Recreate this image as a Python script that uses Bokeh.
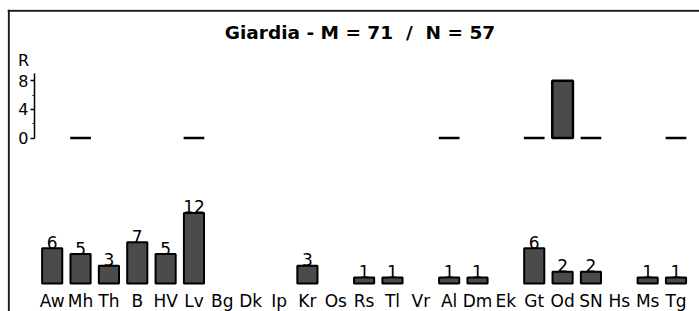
from bokeh.plotting import figure
from bokeh.models import (ColumnDataSource, Range1d, LinearAxis, FixedTicker, Span)
from bokeh.core.properties import value
from bokeh.embed import file_html
from bokeh.resources import INLINE

# ---- data ----
categories = ["Aw", "Mh", "Th", "B", "HV", "Lv", "Bg", "Dk", "Ip", "Kr", "Os", "Rs",
              "Tl", "Vr", "Al", "Dm", "Ek", "Gt", "Od", "SN", "Hs", "Ms", "Tg"]
counts = [6, 5, 3, 7, 5, 12, 0, 0, 0, 3, 0, 1, 1, 0, 1, 1, 0, 6, 2, 2, 0, 1, 1]
r_categories = ["Mh", "Lv", "Al", "Gt", "Od", "SN", "Tg"]
r_values = [0, 0, 0, 0, 8, 0, 0]
r_ticks = [0, 4, 8]
r_minor_ticks = [2, 6]
title_text = "Giardia - M = 71 \u00a0/\u00a0 N = 57"
r_label = "R"

FONT = "DejaVu Sans"
BAR_FILL = "#4b4b4b"

idx = {c: i for i, c in enumerate(categories)}

bar_x = [idx[c] for c, v in zip(categories, counts) if v > 0]
bar_top = [v for v in counts if v > 0]
bar_lbl = [str(v) for v in bar_top]
bars = ColumnDataSource(dict(x=bar_x, top=bar_top, label=bar_lbl))

rsrc = ColumnDataSource(dict(x=[idx[c] for c in r_categories], top=r_values))

# ---- layout (page pixels) ----
PX_X = 28.355      # px per category
PX_Y = 5.88        # px per count
PX_R = 7.15        # px per R unit
LEFT, TOP = 7, 9
CANVAS_H = 311
FRAME_W, FRAME_H = 699 - LEFT, CANVAS_H - TOP
X0_PX = 51.7       # centre of first category
Y0_PX = 283        # count baseline
R0_PX = 137.5      # R baseline

x_start = -(X0_PX - LEFT) / PX_X
x_end = x_start + FRAME_W / PX_X
y_start = -(CANVAS_H - Y0_PX) / PX_Y
y_end = y_start + FRAME_H / PX_Y
r_start = -(CANVAS_H - R0_PX) / PX_R
r_end = r_start + FRAME_H / PX_R

def ypx(py):
    return (Y0_PX - py) / PX_Y

p = figure(frame_width=FRAME_W, frame_height=FRAME_H, min_border=0,
           min_border_left=LEFT, min_border_top=TOP,
           x_range=Range1d(x_start, x_end), y_range=Range1d(y_start, y_end),
           x_axis_location=None, y_axis_location=None,
           output_backend="svg", toolbar_location=None, outline_line_color=None)
p.extra_y_ranges = {"R": Range1d(r_start, r_end)}
p.grid.visible = False

# outer frame: top and left edges
p.add_layout(Span(location=x_start + 1.3 / PX_X, dimension="height",
                  line_color="#1a1a1a", line_width=2))
p.add_layout(Span(location=ypx(10.3), dimension="width",
                  line_color="#1a1a1a", line_width=2))

# bottom panel bars
p.vbar(x="x", top="top", bottom=0, width=0.71, source=bars,
       fill_color=BAR_FILL, line_color="black", line_width=2)
p.text(x="x", y="top", text="label", source=bars, text_align="center",
       text_baseline="alphabetic", y_offset=-6, text_font=value(FONT),
       text_font_size="17px", text_color="black")

# top panel bars (R)
p.vbar(x="x", top="top", bottom=0, width=0.73, source=rsrc, y_range_name="R",
       fill_color=BAR_FILL, line_color="black", line_width=2.5)

# R axis inside the frame
r_axis = LinearAxis(y_range_name="R", fixed_location=x_start + (34 - LEFT) / PX_X,
                    bounds=(0, 9),
                    ticker=FixedTicker(ticks=r_ticks, minor_ticks=r_minor_ticks))
r_axis.major_label_text_font = FONT
r_axis.major_label_text_font_size = "16px"
r_axis.major_label_text_color = "black"
r_axis.major_label_standoff = 2
r_axis.major_tick_out = 4
r_axis.major_tick_in = 0
r_axis.minor_tick_out = 2
r_axis.minor_tick_in = 0
r_axis.axis_line_width = 1.5
r_axis.major_tick_line_width = 1.5
p.add_layout(r_axis, "left")

p.text(x=[x_start + (23 - LEFT) / PX_X], y=[(R0_PX - 66) / PX_R], text=[r_label],
       y_range_name="R", text_align="center", text_baseline="alphabetic", y_offset=-6,
       text_font=value(FONT), text_font_size="16px", text_color="black")

# category axis (inside the frame, just under the baseline)
x_axis = LinearAxis(ticker=FixedTicker(ticks=list(range(len(categories)))),
                    major_label_overrides={i: c for i, c in enumerate(categories)},
                    fixed_location=ypx(285))
x_axis.axis_line_color = None
x_axis.major_tick_line_color = None
x_axis.minor_tick_line_color = None
x_axis.major_tick_out = 0
x_axis.major_tick_in = 0
x_axis.major_label_standoff = 5
x_axis.major_label_text_font = FONT
x_axis.major_label_text_font_size = "17px"
x_axis.major_label_text_color = "black"
p.add_layout(x_axis, "below")

# title
p.text(x=[(359.5 - X0_PX) / PX_X], y=[ypx(39)], text=[title_text],
       text_align="center", text_baseline="alphabetic", y_offset=-7,
       text_font=value(FONT), text_font_size="18.5px", text_font_style="bold",
       text_color="black")

open("out.html", "w").write(file_html(p, INLINE))
